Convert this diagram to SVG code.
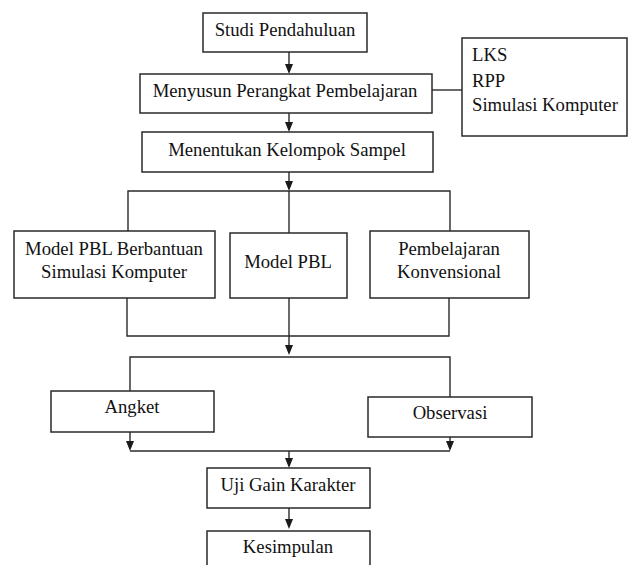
<svg xmlns="http://www.w3.org/2000/svg" width="629" height="565" viewBox="0 0 629 565">
<style>
.box{fill:#fff;stroke:#2a2a2a;stroke-width:1.5}
.ln{fill:none;stroke:#2a2a2a;stroke-width:1.4}
.ah{fill:#1a1a1a}
text{font-family:"Liberation Serif","Times New Roman",serif;font-size:18.7px;fill:#111}
.c{text-anchor:middle}
</style>
<rect width="629" height="565" fill="#fff"/>
<g id="connectors">
<path class="ln" d="M289,52 V66"/>
<path class="ah" d="M285,64 L293,64 L289,74 Z"/>
<path class="ln" d="M289,113 V124"/>
<path class="ah" d="M285,122 L293,122 L289,132 Z"/>
<path class="ln" d="M289,172 V183"/>
<path class="ah" d="M285,181 L293,181 L289,191 Z"/>
<path class="ln" d="M432,90 H462"/>
<path class="ln" d="M128,231 V191 H450 V231"/>
<path class="ln" d="M289,191 V233"/>
<path class="ln" d="M127,298 V336 H449 V298"/>
<path class="ln" d="M289,298 V347"/>
<path class="ah" d="M285,345 L293,345 L289,355 Z"/>
<path class="ln" d="M130,391 V357 H450 V397"/>
<path class="ln" d="M130,432 V443"/>
<path class="ah" d="M126,441 L134,441 L130,451 Z"/>
<path class="ln" d="M450,437 V443"/>
<path class="ah" d="M446,441 L454,441 L450,451 Z"/>
<path class="ln" d="M130,451 H450"/>
<path class="ln" d="M289,451 V460"/>
<path class="ah" d="M285,458 L293,458 L289,468 Z"/>
<path class="ln" d="M289,508 V521"/>
<path class="ah" d="M285,519 L293,519 L289,529 Z"/>
</g>
<g id="studi">
<rect class="box" x="203" y="13" width="164" height="39"/>
<text class="c" x="285" y="36">Studi Pendahuluan</text>
</g>
<g id="menyusun">
<rect class="box" x="140" y="74" width="292" height="39"/>
<text class="c" x="285" y="97">Menyusun Perangkat Pembelajaran</text>
</g>
<g id="perangkat">
<rect class="box" x="462" y="38" width="165" height="98"/>
<text x="472" y="61">LKS</text>
<text x="472" y="87">RPP</text>
<text x="472" y="111">Simulasi Komputer</text>
</g>
<g id="menentukan">
<rect class="box" x="142" y="132" width="291" height="40"/>
<text class="c" x="287" y="156">Menentukan Kelompok Sampel</text>
</g>
<g id="pbl-simulasi">
<rect class="box" x="14" y="231" width="201" height="67"/>
<text class="c" x="114" y="255">Model PBL Berbantuan</text>
<text class="c" x="114" y="278">Simulasi Komputer</text>
</g>
<g id="pbl">
<rect class="box" x="230" y="233" width="117" height="65"/>
<text class="c" x="288" y="268">Model PBL</text>
</g>
<g id="konvensional">
<rect class="box" x="370" y="231" width="159" height="67"/>
<text class="c" x="449" y="255">Pembelajaran</text>
<text class="c" x="449" y="278">Konvensional</text>
</g>
<g id="angket">
<rect class="box" x="51" y="391" width="163" height="41"/>
<text class="c" x="132" y="413">Angket</text>
</g>
<g id="observasi">
<rect class="box" x="368" y="397" width="164" height="40"/>
<text class="c" x="450" y="419">Observasi</text>
</g>
<g id="uji">
<rect class="box" x="207" y="468" width="163" height="40"/>
<text class="c" x="288" y="491">Uji Gain Karakter</text>
</g>
<g id="kesimpulan">
<rect class="box" x="207" y="531" width="163" height="45"/>
<text class="c" x="288" y="553">Kesimpulan</text>
</g>
</svg>
